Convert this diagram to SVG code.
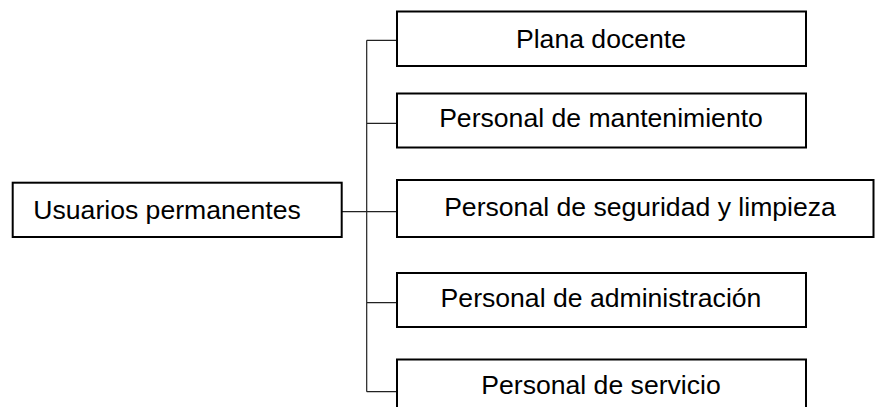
<svg xmlns="http://www.w3.org/2000/svg" width="875" height="407" viewBox="0 0 875 407">
<style>
.box{fill:#fff;stroke:#000;stroke-width:2}
.lbl{font-family:"Liberation Sans",Arial,sans-serif;font-size:26.6px;fill:#000}
.conn{fill:none;stroke:#222;stroke-width:1.2}
</style>
<rect width="875" height="407" fill="#fff"/>
<g id="connectors">
<path class="conn" d="M341.7,211.7H366.7M366.7,40.3V391.7M366.7,40.3H397M366.7,123.3H397M366.7,211.7H397M366.7,302.7H397M366.7,391.7H397"/>
</g>
<g id="root">
<rect class="box" x="12.7" y="182.7" width="329" height="54.3"/>
<text class="lbl" x="33.3" y="219.3">Usuarios permanentes</text>
</g>
<g id="n1">
<rect class="box" x="397" y="11.5" width="409" height="54.5"/>
<text class="lbl" x="601" y="47.8" text-anchor="middle">Plana docente</text>
</g>
<g id="n2">
<rect class="box" x="397" y="93.5" width="409" height="54"/>
<text class="lbl" x="601" y="127.3" text-anchor="middle">Personal de mantenimiento</text>
</g>
<g id="n3">
<rect class="box" x="397" y="180" width="476.5" height="57"/>
<text class="lbl" x="640" y="215.8" text-anchor="middle">Personal de seguridad y limpieza</text>
</g>
<g id="n4">
<rect class="box" x="397" y="273" width="409" height="54"/>
<text class="lbl" x="601" y="307.3" text-anchor="middle">Personal de administración</text>
</g>
<g id="n5">
<rect class="box" x="397" y="359.5" width="409" height="60"/>
<text class="lbl" x="601" y="394.2" text-anchor="middle">Personal de servicio</text>
</g>
</svg>
